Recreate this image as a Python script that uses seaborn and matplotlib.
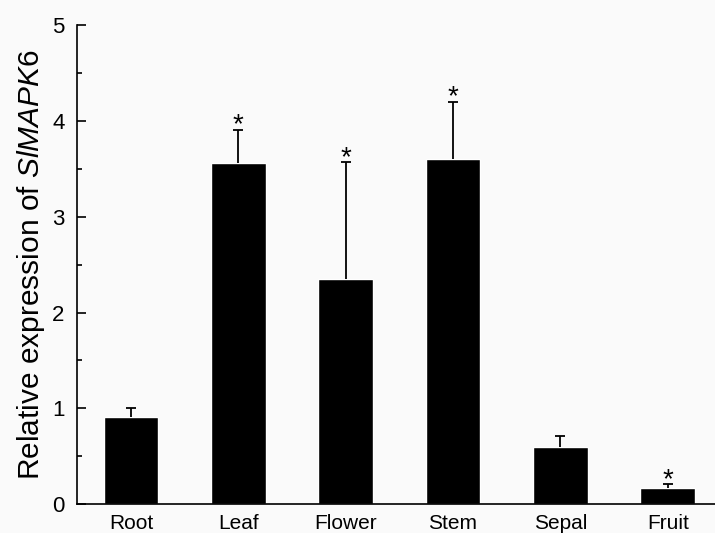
import numpy as np
import pandas as pd
import matplotlib
matplotlib.use("Agg")
import matplotlib.pyplot as plt
import seaborn as sns

# values
tissues = ["Root", "Leaf", "Flower", "Stem", "Sepal", "Fruit"]
expression = [0.91, 3.56, 2.35, 3.60, 0.60, 0.17]
error = [0.09, 0.35, 1.22, 0.60, 0.11, 0.04]
significant = [False, True, True, True, False, True]

sns.set_style("ticks", {"axes.edgecolor": "black", "text.color": "black",
                        "xtick.color": "black", "ytick.color": "black",
                        "axes.labelcolor": "black"})
plt.rcParams["font.family"] = ["Liberation Sans", "DejaVu Sans"]
plt.rcParams["mathtext.fontset"] = "custom"
plt.rcParams["mathtext.rm"] = "Liberation Sans"
plt.rcParams["mathtext.it"] = "Liberation Sans:italic"

df = pd.DataFrame({"tissue": tissues, "expr": expression, "err": error})

fig = plt.figure(figsize=(7.15, 5.33), dpi=100)
fig.patch.set_facecolor("#fafafa")
ax = fig.add_axes([0.108, 0.054, 0.892, 0.899])
ax.set_facecolor("#fafafa")

sns.barplot(data=df, x="tissue", y="expr", color="black", saturation=1,
            width=0.51, errorbar=None, ax=ax)
# upward-only error bars
eb = ax.errorbar(np.arange(len(tissues)), df["expr"],
                 yerr=[np.zeros(len(tissues)), df["err"]],
                 fmt="none", ecolor="black", elinewidth=1.3, capsize=3.6, capthick=1.3)
# hide the cap sitting on the bar top
for cap in eb[1]:
    if np.allclose(cap.get_ydata(), expression):
        cap.set_visible(False)

for i, (v, e, s) in enumerate(zip(expression, error, significant)):
    if s:
        ax.annotate("*", (i, v + e), xytext=(0, -2), textcoords="offset points",
                    ha="center", va="baseline", fontsize=20, color="black")

ax.set_ylim(0, 5)
ax.set_xlim(-0.5, 5.44)
ax.set_yticks([0, 1, 2, 3, 4, 5])
ax.set_yticks(np.arange(0.5, 5, 1), minor=True)
ax.tick_params(axis="y", which="major", direction="in", length=6.5, width=1.2,
               labelsize=16, pad=9)
ax.tick_params(axis="y", which="minor", direction="in", length=3.6, width=1.2)
ax.tick_params(axis="x", length=0, labelsize=15, pad=7)
ax.set_xlabel("")
ax.set_ylabel("Relative expression of $\\it{SlMAPK6}$", fontsize=21.5, labelpad=4)
for side in ["top", "right"]:
    ax.spines[side].set_visible(False)
for side in ["left", "bottom"]:
    ax.spines[side].set_linewidth(1.2)

fig.savefig("out.png", dpi=100, facecolor=fig.get_facecolor())
